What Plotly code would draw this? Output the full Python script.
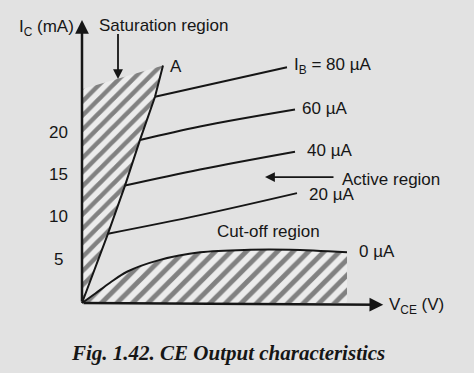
import plotly.graph_objects as go

# ---- data (V_CE in volts, I_C in mA) ----
ib_labels = ["I<sub>B</sub> = 80 µA", "60 µA", "40 µA", "20 µA"]
ib80_v = [2.92, 8.2]
ib80_i = [24.4, 27.9]
ib60_v = [2.32, 4.72, 8.52]
ib60_i = [19.3, 20.9, 22.9]
ib40_v = [1.72, 4.72, 8.52]
ib40_i = [13.9, 15.8, 17.9]
ib20_v = [1.04, 4.72, 8.6]
ib20_i = [8.2, 10.4, 13.0]
ib0_v = [0.0, 0.52, 1.12, 1.8, 3.12, 4.72, 6.72, 8.32, 10.6]
ib0_i = [0.0, 1.1, 2.4, 3.7, 5.1, 6.0, 6.3, 6.3, 6.0]
# saturation boundary (origin -> point A)
sat_v = [0.0, 1.04, 1.72, 2.32, 2.92, 3.24]
sat_i = [0.0, 8.2, 13.9, 19.3, 24.4, 28.1]
sat_top_i = 25.3  # where hatched region meets the I_C axis
tick_vals = [5, 10, 15, 20]
v_max = 12.05
i_max = 33.5

BG = "#e2e2e2"
INK = "#161616"
FONT = "Liberation Sans, Arial, sans-serif"

fig = go.Figure()

# saturation hatched region
fig.add_trace(go.Scatter(
    x=[0.0] + sat_v + [0.0], y=[0.0] + sat_i + [sat_top_i],
    mode="none", fill="toself",
    fillpattern=dict(shape="/", size=10, solidity=0.45, fgcolor=INK, bgcolor="#ececec"),
    hoverinfo="skip", showlegend=False))
# cut-off hatched region
fig.add_trace(go.Scatter(
    x=ib0_v + [ib0_v[-1], 0.0], y=ib0_i + [0.0, 0.0],
    mode="none", fill="toself",
    fillpattern=dict(shape="/", size=11, solidity=0.45, fgcolor=INK, bgcolor="#ececec"),
    hoverinfo="skip", showlegend=False))

# saturation boundary line
fig.add_trace(go.Scatter(x=sat_v, y=sat_i, mode="lines",
                         line=dict(color=INK, width=2), hoverinfo="skip", showlegend=False))
# characteristic curves
for vx, iy in [(ib80_v, ib80_i), (ib60_v, ib60_i), (ib40_v, ib40_i), (ib20_v, ib20_i), (ib0_v, ib0_i)]:
    fig.add_trace(go.Scatter(x=vx, y=iy, mode="lines", line=dict(color=INK, width=2, shape="spline"),
                             hoverinfo="skip", showlegend=False))

ann = []
def arrow(x0, y0, x1, y1, w=2):
    ann.append(dict(x=x1, y=y1, ax=x0, ay=y0, xref="x", yref="y", axref="x", ayref="y",
                    showarrow=True, arrowhead=2, arrowsize=1.1, arrowwidth=w, arrowcolor=INK, text=""))

def label(x, y, t, size=17, anchor="left"):
    ann.append(dict(x=x, y=y, xref="x", yref="y", text=t, showarrow=False, xanchor=anchor,
                    yanchor="middle", font=dict(family=FONT, size=size, color=INK)))

# axes
arrow(0, 0, 0, i_max, w=2.5)
arrow(0, 0, v_max, -0.2, w=2.5)
# region arrows
arrow(1.44, 32.0, 1.44, 26.5, w=1.8)
arrow(10.12, 14.9, 7.32, 14.9, w=1.8)

for t in tick_vals:
    label(-0.96, t + 0.2, str(t), size=17, anchor="center")

label(-2.62, 32.6, "I<sub>C</sub> (mA)")
label(0.58, 32.8, "Saturation region")
label(3.44, 28.0, "A")
label(8.4, 28.0, ib_labels[0])
label(8.72, 23.0, ib_labels[1])
label(8.92, 18.0, ib_labels[2])
label(10.3, 14.6, "Active region")
label(9.0, 12.8, ib_labels[3])
label(5.32, 8.5, "Cut-off region")
label(11.0, 6.1, "0 µA")
label(12.2, -0.4, "V<sub>CE</sub> (V)")

ann.append(dict(x=(228 - 82) / 25, y=(303 - 353) / 8.45, xref="x", yref="y",
                text="<b><i>Fig. 1.42. CE Output characteristics</i></b>",
                showarrow=False, xanchor="center", yanchor="middle",
                font=dict(family="Liberation Serif, Times New Roman, serif", size=21, color=INK)))

fig.update_layout(
    width=474, height=373, autosize=False,
    margin=dict(l=0, r=0, t=0, b=0),
    paper_bgcolor=BG, plot_bgcolor=BG,
    xaxis=dict(visible=False, range=[(0 - 82) / 25, (474 - 82) / 25], fixedrange=True),
    yaxis=dict(visible=False, range=[(303 - 373) / 8.45, 303 / 8.45], fixedrange=True),
    annotations=ann, showlegend=False,
)

fig.write_html("out.html", config={"displayModeBar": False})
